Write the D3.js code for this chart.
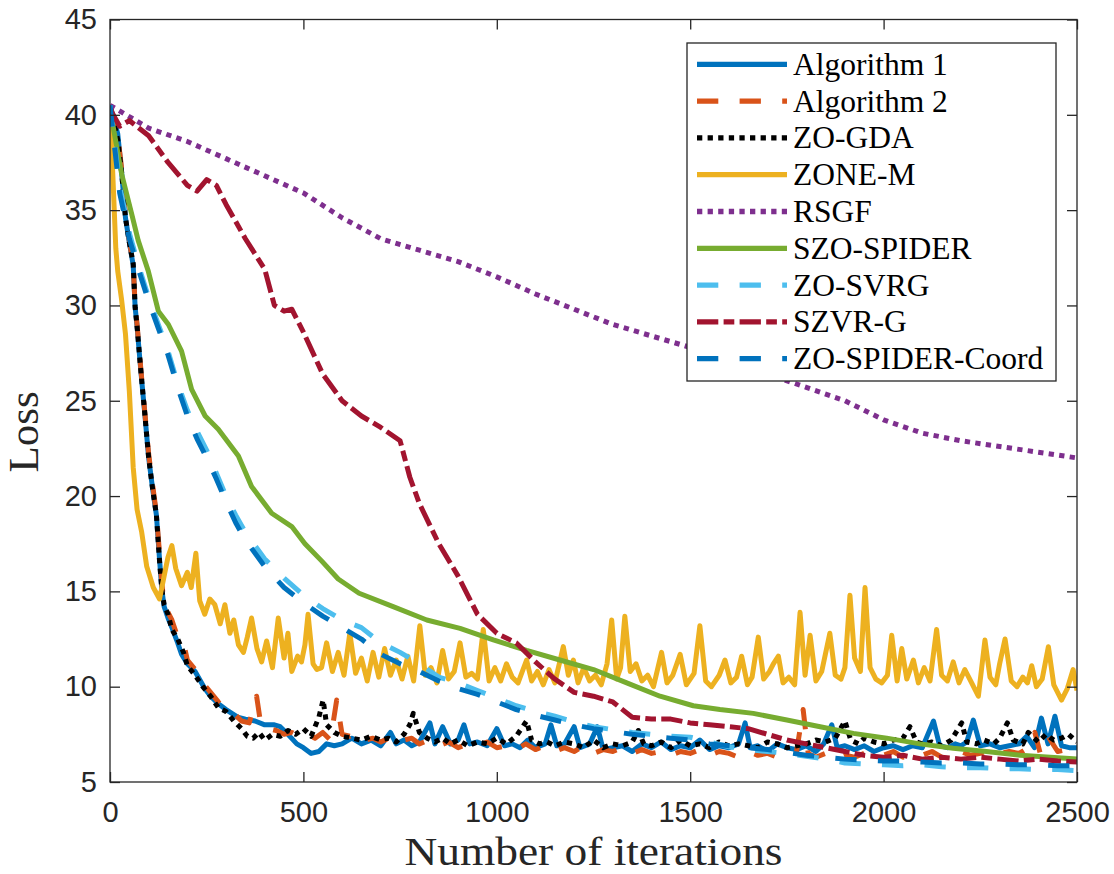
<!DOCTYPE html>
<html>
<head>
<meta charset="utf-8">
<script src="https://cdn.jsdelivr.net/npm/d3@7"></script>
<style>
body { margin: 0; background: #fff; }
svg { display: block; }
</style>
</head>
<body>
<script>
const WIDTH = 1114;
const HEIGHT = 874;

const xTicks = [0, 500, 1000, 1500, 2000, 2500];
const yTicks = [5, 10, 15, 20, 25, 30, 35, 40, 45];

const seriesNames = ["Algorithm 1", "Algorithm 2", "ZO-GDA", "ZONE-M", "RSGF",
    "SZO-SPIDER", "ZO-SVRG", "SZVR-G", "ZO-SPIDER-Coord"];

// [iteration, loss]
const alg1 = [[0,40.5],[10,39.8],[20,39.0],[30,37.0],[40,34.6],[50,33.3],[60,32.1],[65,29.9],[70,28.9],[80,26.5],
    [90,24.3],[100,22.0],[110,20.4],[120,19.0],[128,16.7],[134,15.1],[140,14.2],[150,13.6],[160,13.1],[175,12.3],
    [185,11.7],[200,11.2],[220,10.8],[245,9.9],[260,9.5],[280,9.1],[300,8.8],[315,8.6],[330,8.4],[350,8.3],
    [375,8.2],[400,8.0],[425,8.0],[440,7.9],[460,7.5],[483,7.0],[500,6.8],[520,6.5],[540,6.6],[560,7.0],
    [580,6.9],[600,7.0],[625,7.3],[650,7.0],[675,7.2],[700,6.9],[725,7.6],[740,7.0],[760,7.2],[780,6.9],
    [800,7.1],[827,8.1],[840,7.0],[860,7.9],[880,7.0],[900,7.2],[915,8.0],[930,7.0],[950,7.1],[975,6.9],
    [1000,7.8],[1020,6.9],[1040,7.0],[1060,6.8],[1080,7.2],[1100,6.8],[1125,7.0],[1140,8.0],[1155,6.9],[1175,7.0],
    [1200,7.9],[1215,6.8],[1240,7.0],[1260,7.9],[1275,6.7],[1300,6.8],[1325,6.9],[1350,6.6],[1375,7.0],[1400,6.8],
    [1425,7.1],[1450,6.7],[1475,6.9],[1500,6.8],[1525,7.2],[1550,6.7],[1575,6.9],[1600,6.8],[1625,7.0],[1642,8.1],
    [1655,6.8],[1675,6.9],[1700,6.6],[1725,7.0],[1750,6.8],[1775,6.7],[1800,6.9],[1825,6.6],[1845,7.0],[1866,8.0],
    [1880,6.8],[1900,6.9],[1925,6.7],[1950,6.9],[1975,6.6],[2000,6.8],[2025,6.9],[2050,6.7],[2075,6.9],[2100,6.8],
    [2129,8.2],[2145,6.9],[2165,6.8],[2185,7.0],[2200,6.9],[2215,7.1],[2232,8.25],[2250,6.9],[2275,7.0],[2300,6.8],
    [2325,6.9],[2350,7.0],[2370,7.4],[2390,6.8],[2408,8.35],[2425,7.0],[2443,8.45],[2460,6.9],[2480,6.8],[2500,6.8]];

const alg2 = [[0,40.5],[20,38.9],[30,37.2],[40,34.8],[50,33.4],[60,32.1],[65,30.0],[70,29.0],[80,26.6],[90,24.4],
    [100,22.2],[110,20.6],[120,19.1],[128,17.0],[134,15.4],[140,14.4],[150,13.9],[160,13.5],[175,12.6],[190,12.3],
    [200,11.4],[220,10.9],[240,10.2],[260,9.7],[280,9.2],[300,8.8],[320,8.6],[340,8.2],[360,8.1],[379,9.5],
    [390,8.0],[410,7.8],[430,7.7],[450,7.5],[470,7.6],[490,7.4],[510,7.5],[530,7.3],[550,7.6],[570,7.2],
    [586,9.3],[600,7.5],[620,7.4],[640,7.6],[660,7.2],[680,7.3],[700,7.1],[720,7.3],[740,7.0],[760,7.2],
    [780,7.3],[800,7.0],[825,7.2],[850,6.9],[875,7.1],[900,6.8],[925,7.0],[950,6.9],[975,7.1],[1000,6.8],
    [1025,6.9],[1050,6.7],[1075,7.0],[1100,6.7],[1125,6.9],[1150,6.6],[1175,6.8],[1200,6.6],[1225,6.9],[1250,6.5],
    [1275,6.7],[1300,6.6],[1325,6.8],[1350,6.5],[1375,6.7],[1400,6.5],[1425,6.6],[1450,6.4],[1475,6.6],[1500,6.5],
    [1525,6.7],[1550,6.4],[1575,6.6],[1600,6.5],[1625,6.3],[1650,6.6],[1675,6.4],[1700,6.5],[1725,6.3],[1750,6.5],
    [1775,6.6],[1792,8.8],[1805,6.5],[1825,6.3],[1850,6.5],[1875,6.2],[1900,6.4],[1925,6.3],[1950,6.5],[1975,6.3],
    [2000,6.4],[2025,6.6],[2050,6.3],[2075,6.5],[2100,6.4],[2125,6.6],[2150,6.3],[2175,6.5],[2200,6.6],[2225,6.4],
    [2250,6.5],[2275,6.7],[2300,6.5],[2325,6.6],[2350,6.5],[2375,6.8],[2391,7.6],[2405,6.5],[2425,7.4],[2450,6.6],
    [2475,6.7],[2500,6.6]];

const zoGda = [[0,40.5],[20,38.7],[30,37.0],[40,34.6],[50,33.3],[60,32.2],[65,29.9],[70,28.9],[80,26.5],[90,24.3],
    [100,22.0],[110,20.4],[120,19.0],[128,16.6],[134,15.1],[140,14.3],[150,13.8],[160,13.0],[175,12.5],[190,11.8],
    [200,11.1],[220,10.6],[240,10.0],[260,9.5],[280,8.9],[300,8.7],[320,8.2],[340,7.8],[355,7.4],[370,7.3],
    [385,7.6],[400,7.2],[420,7.5],[440,7.4],[460,7.7],[480,7.5],[500,7.8],[520,7.4],[540,8.4],[551,9.3],
    [560,8.0],[580,7.6],[600,7.4],[625,7.3],[650,7.2],[675,7.4],[700,7.2],[720,7.3],[740,7.1],[760,7.5],
    [775,8.0],[784,8.6],[800,7.6],[820,7.3],[840,7.1],[860,7.3],[880,7.0],[900,7.2],[925,6.9],[950,7.1],
    [975,7.0],[1000,7.3],[1025,7.0],[1050,7.4],[1077,8.2],[1090,7.2],[1110,7.0],[1130,7.1],[1150,6.9],[1175,7.1],
    [1200,7.0],[1225,6.8],[1250,7.2],[1275,6.8],[1300,7.0],[1325,6.9],[1350,7.1],[1366,7.7],[1380,7.0],[1400,6.9],
    [1425,7.1],[1450,6.8],[1475,7.2],[1500,6.9],[1525,7.0],[1550,6.8],[1575,7.1],[1600,6.9],[1625,7.0],[1650,6.9],
    [1675,6.8],[1700,7.1],[1725,7.0],[1750,6.8],[1775,6.9],[1800,7.0],[1825,7.2],[1850,7.1],[1875,7.3],[1900,8.2],
    [1915,7.2],[1935,7.0],[1950,7.3],[1975,7.1],[2000,7.0],[2025,7.2],[2050,7.3],[2068,7.9],[2085,7.1],[2100,7.0],
    [2125,7.1],[2150,6.9],[2175,7.2],[2202,8.1],[2215,7.1],[2240,7.0],[2260,7.2],[2285,7.0],[2300,7.3],[2320,8.1],
    [2335,7.2],[2360,7.0],[2374,7.6],[2400,7.1],[2420,7.5],[2440,7.2],[2460,7.3],[2478,7.5],[2500,7.1]];

const zoneM = [[0,40.0],[3,39.0],[5,38.0],[10,35.5],[15,33.0],[20,31.8],[30,30.3],[40,28.5],[50,25.5],[55,23.5],
    [60,21.5],[70,19.3],[82,18.1],[95,16.3],[112,15.2],[128,14.6],[140,15.8],[150,16.8],[160,17.4],[170,16.2],
    [185,15.3],[200,16.0],[210,15.2],[222,17.0],[232,14.5],[245,13.8],[258,14.6],[271,14.3],[285,13.3],[297,14.3],
    [310,12.8],[320,13.5],[332,12.2],[345,11.8],[355,12.6],[366,13.6],[380,12.0],[392,11.3],[405,12.4],[420,11.0],
    [435,13.6],[450,11.5],[460,12.8],[470,10.8],[485,11.6],[495,11.3],[504,12.2],[512,13.8],[525,11.2],[535,10.9],
    [547,11.0],[560,12.3],[575,10.8],[590,11.8],[605,10.6],[620,12.8],[635,10.7],[650,11.5],[665,10.3],[680,11.8],
    [695,10.5],[710,12.0],[725,10.6],[740,11.4],[755,10.4],[770,11.6],[785,10.3],[801,13.2],[815,10.6],[830,11.0],
    [845,10.2],[860,11.9],[875,10.4],[890,10.8],[905,12.3],[920,10.5],[935,10.7],[950,10.4],[965,13.0],[980,10.3],
    [995,11.0],[1010,10.3],[1025,11.2],[1040,10.5],[1055,10.2],[1077,11.4],[1090,10.3],[1105,10.8],[1120,10.1],[1135,10.9],
    [1150,10.2],[1172,12.1],[1185,10.6],[1198,11.4],[1210,10.2],[1225,11.0],[1240,10.3],[1255,10.6],[1270,10.1],[1285,11.2],
    [1297,13.5],[1310,10.4],[1320,11.0],[1331,13.7],[1345,10.8],[1360,11.2],[1375,10.3],[1390,10.6],[1405,10.0],[1426,11.8],
    [1440,10.2],[1455,10.6],[1474,11.7],[1490,10.1],[1510,10.7],[1525,13.2],[1540,10.3],[1555,10.0],[1575,10.6],[1590,11.4],
    [1605,10.2],[1620,10.5],[1633,11.6],[1648,10.1],[1660,10.5],[1676,12.6],[1690,10.4],[1705,10.8],[1715,11.2],[1728,11.6],
    [1740,10.2],[1755,10.5],[1770,10.1],[1784,13.9],[1797,10.6],[1810,12.7],[1825,10.3],[1840,10.8],[1861,12.8],[1875,10.6],
    [1890,10.4],[1900,11.0],[1913,14.8],[1925,11.5],[1940,10.8],[1952,15.2],[1965,11.0],[1980,10.4],[1995,10.2],[2010,10.6],
    [2021,12.7],[2035,10.3],[2047,12.0],[2060,10.4],[2077,11.4],[2090,10.2],[2105,11.0],[2120,10.3],[2137,13.0],[2150,10.6],
    [2165,10.3],[2180,11.3],[2195,10.2],[2210,10.9],[2225,10.3],[2245,9.5],[2262,12.45],[2275,10.5],[2290,10.1],[2300,11.2],
    [2314,12.5],[2330,10.3],[2345,10.0],[2360,10.5],[2372,10.2],[2383,11.1],[2395,10.0],[2410,10.4],[2426,12.1],[2440,10.1],
    [2460,9.3],[2475,9.9],[2490,10.9],[2500,9.8]];

const rsgf = [[0,40.5],[100,39.3],[200,38.6],[300,37.7],[400,36.8],[500,35.9],[600,34.6],[700,33.5],[800,32.9],
    [900,32.3],[1000,31.5],[1100,30.6],[1200,29.8],[1300,29.0],[1400,28.4],[1500,27.8],[1600,27.2],[1700,26.4],
    [1800,25.7],[1900,25.0],[2000,24.0],[2100,23.3],[2200,22.9],[2300,22.6],[2400,22.3],[2500,22.0]];

const szoSpider = [[0,40.3],[4,39.85],[30,36.9],[56,34.8],[73,33.4],[99,31.8],[125,29.7],[151,29.0],[185,27.6],
    [211,25.6],[246,24.2],[280,23.5],[332,22.1],[366,20.5],[418,19.1],[470,18.4],[504,17.5],[547,16.6],[590,15.65],
    [644,14.9],[732,14.2],[819,13.5],[905,13.06],[991,12.45],[1077,11.9],[1163,11.4],[1250,10.9],[1336,10.2],
    [1422,9.5],[1508,9.0],[1577,8.8],[1663,8.6],[1750,8.25],[1836,7.9],[1922,7.55],[2008,7.3],[2094,7.0],
    [2180,6.77],[2266,6.6],[2353,6.4],[2500,6.2]];

const zoSvrg = [[0,40.5],[25,36.3],[50,33.8],[75,32.0],[100,30.4],[125,29.0],[150,27.6],[175,25.9],[200,24.5],
    [225,23.4],[250,22.4],[275,21.2],[300,20.0],[325,19.0],[350,18.1],[400,16.7],[450,15.7],[500,14.8],[550,14.1],
    [600,13.5],[650,13.1],[700,12.3],[750,11.8],[800,11.2],[850,10.5],[900,10.2],[950,9.8],[1000,9.4],[1050,9.0],
    [1100,8.7],[1150,8.45],[1200,8.15],[1250,7.9],[1300,7.75],[1350,7.6],[1400,7.5],[1450,7.4],[1500,7.35],
    [1550,7.1],[1600,6.85],[1650,6.7],[1700,6.6],[1750,6.5],[1800,6.35],[1850,6.2],[1900,6.0],[1950,5.95],
    [2000,5.9],[2050,5.85],[2100,5.9],[2150,5.8],[2200,5.75],[2250,5.75],[2300,5.7],[2350,5.7],[2400,5.65],
    [2450,5.65],[2500,5.6]];

const szvrG = [[0,40.3],[25,39.4],[50,39.7],[100,38.9],[150,37.5],[200,36.3],[225,36.0],[250,36.6],[275,36.3],
    [300,35.3],[350,33.5],[400,31.9],[425,30.0],[450,29.7],[470,29.8],[500,28.6],[550,26.4],[600,25.0],[650,24.2],
    [700,23.6],[750,22.9],[775,21.0],[800,19.6],[850,17.5],[900,15.8],[950,13.8],[1000,12.8],[1050,12.3],[1100,11.3],
    [1150,10.4],[1200,9.7],[1250,9.5],[1300,9.2],[1350,8.4],[1400,8.3],[1450,8.3],[1500,8.1],[1550,8.0],[1600,7.9],
    [1650,7.8],[1700,7.5],[1750,7.2],[1800,7.0],[1850,6.8],[1900,6.6],[1950,6.4],[2000,6.3],[2050,6.4],[2100,6.2],
    [2150,6.3],[2200,6.2],[2250,6.3],[2300,6.2],[2350,6.1],[2400,6.2],[2450,6.1],[2500,6.05]];

const zoSpiderCoord = [[0,40.5],[25,35.9],[50,33.5],[75,31.8],[100,30.2],[125,28.8],[150,27.4],[175,25.7],
    [200,24.2],[225,23.0],[250,22.0],[275,20.9],[300,19.7],[325,18.6],[350,17.7],[400,16.3],[450,15.2],[500,14.4],
    [550,13.7],[600,13.1],[650,12.5],[700,11.7],[750,11.2],[800,10.8],[850,10.3],[900,9.9],[950,9.6],[1000,9.2],
    [1050,8.8],[1100,8.5],[1150,8.25],[1200,8.0],[1250,7.8],[1300,7.65],[1350,7.5],[1400,7.4],[1450,7.3],[1500,7.2],
    [1550,7.0],[1600,6.9],[1650,6.8],[1700,6.7],[1750,6.55],[1800,6.4],[1850,6.3],[1900,6.2],[1950,6.15],[2000,6.1],
    [2050,6.1],[2100,6.05],[2150,6.0],[2200,6.0],[2250,5.95],[2300,5.95],[2350,5.9],[2400,5.9],[2450,5.85],[2500,5.85]];

const seriesData = [alg1, alg2, zoGda, zoneM, rsgf, szoSpider, zoSvrg, szvrG, zoSpiderCoord];

// MATLAB default colour order + line styles
const lineColors = ["#0072BD", "#D95319", "#000000", "#EDB120", "#7E2F8E", "#77AC30", "#4DBEEE", "#A2142F", "#0072BD"];
const DASH = "21.3,21.3";
const DOT = "5.3,5.3";
const DASHDOT = "21.3,5.3,10.7,5.3";
const lineDashes = [null, DASH, DOT, null, DOT, null, DASH, DASHDOT, DASH];

const plot = { left: 110, right: 1077, top: 19.5, bottom: 782 };
const AXIS_COLOR = "#262626";
const TICK_FONT = "'Liberation Sans', Arial, Helvetica, sans-serif";
const LABEL_FONT = "'Liberation Serif', 'Times New Roman', serif";

function drawChart() {
    const svg = d3.select("body").append("svg")
        .attr("width", WIDTH)
        .attr("height", HEIGHT)
        .style("background", "#fff");

    const x = d3.scaleLinear().domain([0, 2500]).range([plot.left, plot.right]);
    const y = d3.scaleLinear().domain([5, 45]).range([plot.bottom, plot.top]);

    svg.append("defs").append("clipPath").attr("id", "plot-clip")
        .append("rect")
        .attr("x", plot.left).attr("y", plot.top)
        .attr("width", plot.right - plot.left)
        .attr("height", plot.bottom - plot.top);

    // --- Curves ---
    const line = d3.line()
        .x(d => x(d[0]))
        .y(d => y(d[1]));

    const curves = svg.append("g").attr("clip-path", "url(#plot-clip)");
    seriesData.forEach((data, i) => {
        curves.append("path")
            .datum(data)
            .attr("d", line)
            .attr("fill", "none")
            .attr("stroke", lineColors[i])
            .attr("stroke-width", 5)
            .attr("stroke-linejoin", "round")
            .attr("stroke-dasharray", lineDashes[i]);
    });

    // --- Axes (MATLAB box, ticks inside) ---
    const styleAxis = g => {
        g.select(".domain").remove();
        g.selectAll(".tick line").attr("stroke", AXIS_COLOR).attr("stroke-width", 1.3);
        g.selectAll("text")
            .attr("fill", AXIS_COLOR)
            .style("font-family", TICK_FONT)
            .style("font-size", "29px");
    };

    svg.append("g")
        .attr("transform", `translate(0,${plot.bottom})`)
        .call(d3.axisBottom(x).tickValues(xTicks).tickFormat(d3.format("d"))
            .tickSizeInner(-10).tickSizeOuter(0).tickPadding(19))
        .call(styleAxis);

    svg.append("g")
        .attr("transform", `translate(0,${plot.top})`)
        .call(d3.axisTop(x).tickValues(xTicks).tickSizeInner(-10).tickSizeOuter(0).tickFormat(""))
        .call(styleAxis);

    svg.append("g")
        .attr("transform", `translate(${plot.left},0)`)
        .call(d3.axisLeft(y).tickValues(yTicks).tickSizeInner(-10).tickSizeOuter(0).tickPadding(13))
        .call(styleAxis);

    svg.append("g")
        .attr("transform", `translate(${plot.right},0)`)
        .call(d3.axisRight(y).tickValues(yTicks).tickSizeInner(-10).tickSizeOuter(0).tickFormat(""))
        .call(styleAxis);

    svg.append("rect")
        .attr("x", plot.left).attr("y", plot.top)
        .attr("width", plot.right - plot.left)
        .attr("height", plot.bottom - plot.top)
        .attr("fill", "none")
        .attr("stroke", AXIS_COLOR)
        .attr("stroke-width", 1.3);

    // --- Axis labels ---
    svg.append("text")
        .attr("x", (plot.left + plot.right) / 2)
        .attr("y", 865)
        .attr("text-anchor", "middle")
        .attr("textLength", 378)
        .attr("lengthAdjust", "spacingAndGlyphs")
        .style("font-family", LABEL_FONT)
        .style("font-size", "40px")
        .attr("fill", AXIS_COLOR)
        .text("Number of iterations");

    svg.append("text")
        .attr("transform", "translate(38,432) rotate(-90)")
        .attr("text-anchor", "middle")
        .style("font-family", LABEL_FONT)
        .style("font-size", "43px")
        .attr("fill", AXIS_COLOR)
        .text("Loss");

    drawLegend(svg);
}

function drawLegend(svg) {
    const box = { x: 687, y: 43, w: 369, h: 338 };
    const rowTop = 64.3;
    const rowStep = 36.8;

    const legend = svg.append("g");
    legend.append("rect")
        .attr("x", box.x).attr("y", box.y)
        .attr("width", box.w).attr("height", box.h)
        .attr("fill", "#fff")
        .attr("stroke", AXIS_COLOR)
        .attr("stroke-width", 1.3);

    seriesNames.forEach((name, i) => {
        const ry = rowTop + i * rowStep;
        legend.append("line")
            .attr("x1", 697).attr("x2", 787)
            .attr("y1", ry).attr("y2", ry)
            .attr("stroke", lineColors[i])
            .attr("stroke-width", 5.3)
            .attr("stroke-dasharray", lineDashes[i]);

        legend.append("text")
            .attr("x", 793)
            .attr("y", ry + 10.5)
            .style("font-family", LABEL_FONT)
            .style("font-size", "31.5px")
            .attr("fill", "#000")
            .text(name);
    });
}

drawChart();
</script>
</body>
</html>
